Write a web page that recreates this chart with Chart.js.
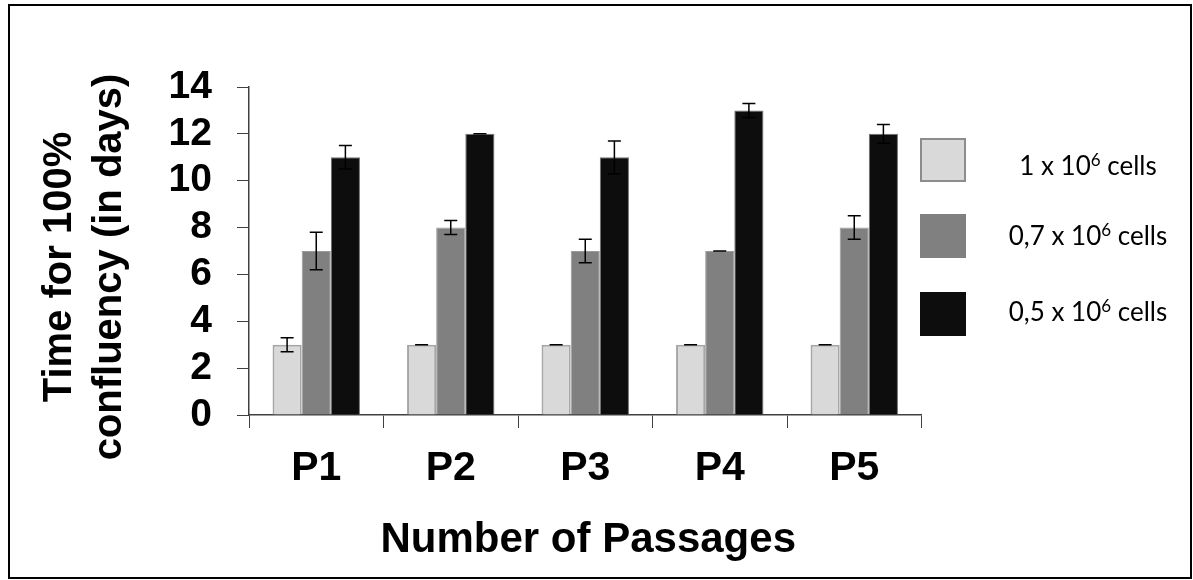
<!DOCTYPE html>
<html>
<head>
<meta charset="utf-8">
<script src="https://cdn.jsdelivr.net/npm/chart.js@4.4.0/dist/chart.umd.min.js"></script>
<style>
  html, body { margin: 0; padding: 0; background: #fff; }
  canvas { display: block; }
</style>
</head>
<body>
<canvas id="chart" width="1193" height="580"></canvas>
<script>
// passages on the x axis
const passages = ['P1', 'P2', 'P3', 'P4', 'P5'];

// days to 100% confluency, per seeding density
const cells1 = [3, 3, 3, 3, 3];
const cells07 = [7, 8, 7, 7, 8];
const cells05 = [11, 12, 11, 13, 12];

// error bar half-lengths
const err1 = [0.3, 0, 0, 0, 0];
const err07 = [0.8, 0.3, 0.5, 0, 0.5];
const err05 = [0.5, 0, 0.7, 0.3, 0.4];

const yMax = 14;
const yStep = 2;

const legendText = [
  ['1 x 10', '6', ' cells'],
  ['0,7 x 10', '6', ' cells'],
  ['0,5 x 10', '6', ' cells']
];
const yTitle = ['Time for 100%', 'confluency (in days)'];
const xTitle = 'Number of Passages';

const boldFont = '"Liberation Sans", Arial, sans-serif';
const legendFont = 'Lato, "Open Sans", sans-serif';

const errorBars = {
  id: 'errorBars',
  afterDatasetsDraw(chart) {
    const ctx = chart.ctx;
    const y = chart.scales.y;
    ctx.save();
    ctx.strokeStyle = '#000';
    ctx.lineWidth = 1.5;
    chart.data.datasets.forEach((ds, i) => {
      const meta = chart.getDatasetMeta(i);
      meta.data.forEach((bar, j) => {
        const v = ds.data[j];
        const e = ds.errors[j];
        const top = y.getPixelForValue(v + e);
        const bot = y.getPixelForValue(v - e);
        ctx.beginPath();
        ctx.moveTo(bar.x, top);
        ctx.lineTo(bar.x, bot);
        ctx.moveTo(bar.x - 6.5, top);
        ctx.lineTo(bar.x + 6.5, top);
        ctx.moveTo(bar.x - 6.5, bot);
        ctx.lineTo(bar.x + 6.5, bot);
        ctx.stroke();
      });
    });
    ctx.restore();
  }
};

const decorations = {
  id: 'decorations',
  beforeDraw(chart) {
    const ctx = chart.ctx;
    ctx.save();
    ctx.fillStyle = '#fff';
    ctx.fillRect(0, 0, chart.width, chart.height);
    ctx.restore();
  },
  afterDraw(chart) {
    const ctx = chart.ctx;
    const area = chart.chartArea;
    ctx.save();

    // outer frame
    ctx.strokeStyle = '#000';
    ctx.lineWidth = 2;
    ctx.strokeRect(9, 5, 1182, 573);

    // y title, two rotated lines
    ctx.fillStyle = '#000';
    ctx.font = 'bold 40px ' + boldFont;
    ctx.textAlign = 'center';
    ctx.textBaseline = 'alphabetic';
    ctx.translate(0, 267);
    ctx.rotate(-Math.PI / 2);
    ctx.fillText(yTitle[0], 0, 71);
    ctx.fillText(yTitle[1], 0, 121);
    ctx.setTransform(1, 0, 0, 1, 0, 0);

    // x title
    ctx.font = 'bold 42px ' + boldFont;
    ctx.fillText(xTitle, (area.left + area.right) / 2 + 3, 552);

    // legend
    const boxTop = [138, 214, 292];
    const baselines = [175, 245, 321];
    chart.data.datasets.forEach((ds, i) => {
      ctx.fillStyle = ds.backgroundColor;
      ctx.fillRect(920, boxTop[i], 46, 44);
      if (i === 0) {
        ctx.strokeStyle = '#8c8c8c';
        ctx.lineWidth = 2;
        ctx.strokeRect(921, boxTop[i] + 1, 44, 42);
      }
      const parts = legendText[i];
      ctx.fillStyle = '#000';
      ctx.textAlign = 'left';
      ctx.font = '26px ' + legendFont;
      const w0 = ctx.measureText(parts[0]).width;
      const w2 = ctx.measureText(parts[2]).width;
      ctx.font = '17px ' + legendFont;
      const w1 = ctx.measureText(parts[1]).width;
      let x = 1088 - (w0 + w1 + w2) / 2;
      ctx.font = '26px ' + legendFont;
      ctx.fillText(parts[0], x, baselines[i]);
      x += w0;
      ctx.font = '17px ' + legendFont;
      ctx.fillText(parts[1], x, baselines[i] - 9);
      x += w1;
      ctx.font = '26px ' + legendFont;
      ctx.fillText(parts[2], x, baselines[i]);
    });
    ctx.restore();
  }
};

new Chart(document.getElementById('chart'), {
  type: 'bar',
  data: {
    labels: passages,
    datasets: [
      {
        label: legendText[0].join(''),
        data: cells1,
        errors: err1,
        backgroundColor: '#d9d9d9',
        borderColor: '#a6a6a6',
        borderWidth: 2
      },
      {
        label: legendText[1].join(''),
        data: cells07,
        errors: err07,
        backgroundColor: '#808080',
        borderColor: '#9a9a9a',
        borderWidth: 1
      },
      {
        label: legendText[2].join(''),
        data: cells05,
        errors: err05,
        backgroundColor: '#0d0d0d',
        borderColor: '#707070',
        borderWidth: 1
      }
    ]
  },
  options: {
    responsive: false,
    animation: false,
    devicePixelRatio: 1,
    layout: { padding: { left: 0, top: 87, right: 271.5, bottom: 0 } },
    plugins: {
      legend: { display: false },
      tooltip: { enabled: false }
    },
    datasets: {
      bar: { categoryPercentage: 0.65, barPercentage: 1 }
    },
    scales: {
      x: {
        grid: { drawOnChartArea: false, drawTicks: true, tickLength: 13, color: '#404040', offset: true },
        border: { color: '#404040', width: 1.5 },
        ticks: {
          color: '#000',
          padding: 16,
          font: { family: boldFont, size: 41, weight: 'bold' }
        },
        afterFit(scale) { scale.height = 165; }
      },
      y: {
        min: 0,
        max: yMax,
        grid: { drawOnChartArea: false, drawTicks: true, tickLength: 12, color: '#404040' },
        border: { color: '#404040', width: 1.5 },
        ticks: {
          stepSize: yStep,
          autoSkip: false,
          color: '#000',
          padding: 25,
          font: { family: boldFont, size: 39, weight: 'bold' }
        },
        afterFit(scale) { scale.width = 249; }
      }
    }
  },
  plugins: [decorations, errorBars]
});
</script>
</body>
</html>
